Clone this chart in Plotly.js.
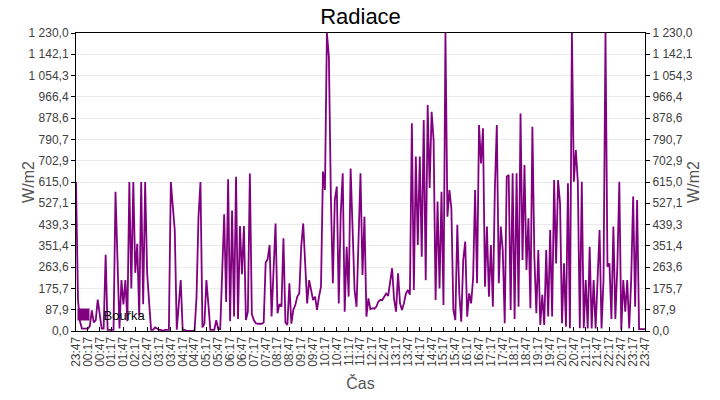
<!DOCTYPE html>
<html>
<head>
<meta charset="utf-8">
<script src="https://cdn.plot.ly/plotly-3.0.1.min.js"></script>
<style>
  body { margin: 0; background: #fff; }
  #graf { width: 720px; height: 400px; }
</style>
</head>
<body>
<div id="graf"></div>
<script>
// radiace W/m2, vzorek po 5 minutach od 23:47 (jeden radek = 1 hodina)
var radiace = [
  615, 130, 40, 10, 10, 10, 10, 20, 85, 35, 45, 130,
  70, 10, 10, 315, 5, 5, 5, 5, 575, 290, 10, 210,
  110, 210, 40, 615, 175, 615, 240, 360, 60, 615, 110, 615,
  240, 120, 5, 5, 15, 10, 5, 5, 0, 5, 5, 5,
  615, 495, 415, 5, 100, 210, 5, 5, 0, 0, 0, 0,
  0, 140, 470, 615, 15, 30, 210, 110, 5, 5, 5, 45,
  8, 8, 289, 482, 120, 626, 40, 497, 60, 637, 50, 433,
  234, 433, 45, 80, 650, 70, 45, 32, 30, 30, 30, 35,
  283, 296, 355, 60, 238, 444, 73, 111, 100, 383, 34, 25,
  197, 30, 87, 107, 142, 155, 348, 444, 279, 114, 210, 169,
  128, 142, 87, 142, 183, 658, 582, 1230, 1132, 555, 197, 541,
  596, 114, 486, 651, 80, 348, 142, 671, 396, 169, 100, 369,
  651, 231, 472, 59, 135, 90, 94, 92, 100, 121, 128, 128,
  142, 155, 145, 204, 259, 130, 80, 238, 114, 87, 115, 155,
  169, 150, 857, 169, 720, 355, 720, 307, 871, 210, 933, 590,
  905, 788, 128, 534, 176, 575, 107, 1230, 472, 582, 506, 87,
  45, 438, 155, 38, 293, 369, 59, 155, 114, 217, 582, 197,
  850, 692, 837, 183, 431, 142, 355, 100, 585, 850, 197, 431,
  334, 32, 637, 644, 87, 651, 50, 651, 100, 898, 293, 685,
  252, 465, 94, 843, 307, 73, 334, 25, 149, 25, 334, 60,
  417, 60, 623, 279, 623, 527, 32, 279, 18, 610, 11, 1230,
  616, 747, 616, 11, 616, 11, 210, 10, 348, 10, 210, 10,
  210, 417, 10, 210, 1230, 265, 279, 50, 431, 50, 265, 616,
  5, 210, 80, 210, 10, 210, 555, 100, 541, 8, 8, 8,
  8
];

var nazevRady = 'Bouřka';
var barva = '#800080';
var yMax = 1230;
var zacatek = Date.UTC(2023, 5, 1, 23, 47);
var krokMin = 5;

function fmt(ms) {
  var d = new Date(ms);
  function p(n) { return (n < 10 ? '0' : '') + n; }
  return d.getUTCFullYear() + '-' + p(d.getUTCMonth() + 1) + '-' + p(d.getUTCDate()) +
    ' ' + p(d.getUTCHours()) + ':' + p(d.getUTCMinutes());
}

var casy = radiace.map(function (v, i) { return fmt(zacatek + i * krokMin * 60000); });

var trace1 = {
  type: 'scatter',
  x: casy,
  y: radiace,
  mode: 'lines',
  name: nazevRady,
  showlegend: false,
  hoverinfo: 'x+y',
  line: {
    color: barva,
    width: 1.8
  }
};

// jen kvuli ctverecku v legende
var trace2 = {
  type: 'scatter',
  x: [null],
  y: [null],
  yaxis: 'y2',
  mode: 'markers',
  name: nazevRady,
  marker: {
    symbol: 'square',
    size: 12,
    color: barva
  }
};

var osaY = {
  range: [0, yMax],
  tick0: 0,
  dtick: yMax / 14,
  tickformat: ',.1f',
  ticks: 'outside',
  ticklen: 4,
  tickcolor: '#000',
  showline: true,
  linecolor: '#000',
  linewidth: 1,
  zeroline: false,
  fixedrange: true
};

var layout = {
  width: 720,
  height: 400,
  margin: {
    l: 76,
    r: 75,
    t: 33,
    b: 69
  },
  paper_bgcolor: '#fff',
  plot_bgcolor: '#fff',
  separators: ', ',
  font: {
    family: '"Liberation Sans", Arial, sans-serif',
    size: 12,
    color: '#404040'
  },
  title: {
    text: 'Radiace',
    font: { size: 22, color: '#000' },
    x: 0.5,
    xref: 'paper',
    y: 0.96,
    yanchor: 'middle'
  },
  showlegend: true,
  legend: {
    x: -0.022,
    y: 0.005,
    xanchor: 'left',
    yanchor: 'bottom',
    bgcolor: 'rgba(0,0,0,0)',
    font: { size: 13, color: '#000' }
  },
  xaxis: {
    type: 'date',
    range: [fmt(zacatek), fmt(zacatek + 1440 * 60000)],
    tick0: fmt(zacatek),
    dtick: 30 * 60000,
    tickformat: '%H:%M',
    tickangle: -90,
    ticks: 'inside',
    ticklen: 4,
    tickcolor: '#000',
    showgrid: false,
    showline: true,
    linecolor: '#000',
    linewidth: 1,
    mirror: true,
    zeroline: false,
    title: {
      text: 'Čas',
      font: { size: 16, color: '#555' }
    }
  },
  yaxis: Object.assign({}, osaY, {
    gridcolor: '#ebebeb',
    title: {
      text: 'W/m2',
      font: { size: 16, color: '#555' }
    }
  }),
  yaxis2: Object.assign({}, osaY, {
    overlaying: 'y',
    side: 'right',
    showgrid: false,
    title: {
      text: 'W/m2',
      font: { size: 16, color: '#555' }
    }
  })
};

var data = [trace1, trace2];

Plotly.newPlot('graf', data, layout, {displayModeBar: false, responsive: false});
</script>
</body>
</html>
